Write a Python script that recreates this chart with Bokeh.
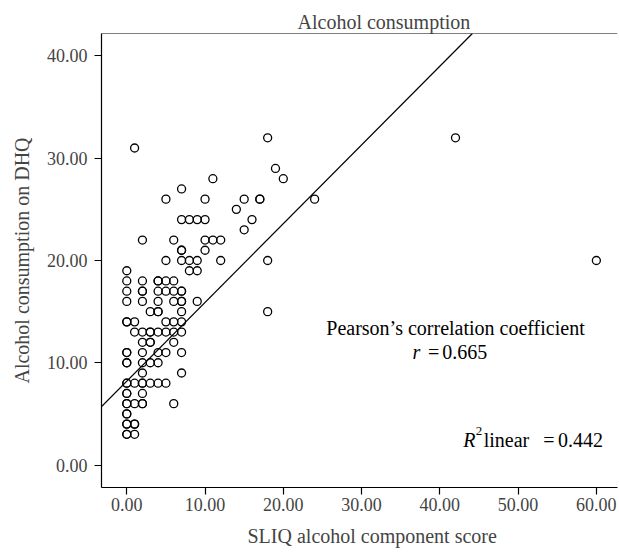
from bokeh.plotting import figure
from bokeh.models import Range1d, NumeralTickFormatter, FixedTicker, Label, Slope, Span, Title
from bokeh.embed import file_html
from bokeh.resources import INLINE

# ---- data ----
sliq_score = (
    [0] * 22 + [1] * 8 + [2] * 15 + [3] * 7 + [4] * 10 + [5] * 8 + [6] * 8 + [7] * 14
    + [8] * 3 + [9] * 4 + [10] * 4 + [11] * 2 + [12] * 2 + [14] + [15] * 2 + [16]
    + [17] * 2 + [18] * 3 + [19] + [20] + [24] + [42] + [60]
)
dhq_score = (
    [19, 18, 17, 16, 14, 14, 11, 11, 10, 10, 8, 8, 7, 7, 6, 6, 5, 5, 4, 4, 3, 3]
    + [31, 14, 13, 8, 6, 4, 4, 3]
    + [22, 18, 17, 17, 16, 13, 12, 11, 10, 9, 8, 8, 7, 6, 6]
    + [15, 13, 13, 12, 12, 10, 8]
    + [18, 18, 17, 16, 15, 15, 13, 11, 10, 8]
    + [26, 20, 18, 17, 14, 13, 11, 8]
    + [22, 18, 17, 16, 14, 13, 12, 6]
    + [27, 24, 21, 21, 20, 17, 17, 16, 16, 15, 14, 13, 11, 9]
    + [24, 20, 19]
    + [24, 20, 19, 16]
    + [26, 24, 22, 21]
    + [28, 22]
    + [22, 20]
    + [25]
    + [26, 23]
    + [24]
    + [26, 26]
    + [32, 20, 15]
    + [29]
    + [28]
    + [26]
    + [32]
    + [20]
)
fit_intercept = 8.2
fit_slope = 0.77
x_ticks = [0, 10, 20, 30, 40, 50, 60]
y_ticks = [0, 10, 20, 30, 40]
pearson_r = "0.665"
r_squared = "0.442"

FONT = "Liberation Serif"
FS_TICK = "18px"
FS = "20px"

p = figure(width=619, height=556, output_backend="svg", toolbar_location=None,
           x_range=Range1d(-3.23, 62.7), y_range=Range1d(-2.2, 42.2),
           min_border_left=101, min_border_right=2, min_border_top=33, min_border_bottom=69)

p.title.text = "Alcohol consumption"
p.title.text_font = FONT
p.title.text_font_size = FS
p.title.text_font_style = "normal"
p.title.align = "left"
p.title.offset = 196
p.title.standoff = 2

p.xgrid.visible = False
p.ygrid.visible = False
p.outline_line_color = None
p.background_fill_color = "white"
p.border_fill_color = "white"

for ax in (p.xaxis[0], p.yaxis[0]):
    ax.formatter = NumeralTickFormatter(format="0.00")
    ax.major_label_text_font = FONT
    ax.major_label_text_font_size = FS_TICK
    ax.axis_label_text_font = FONT
    ax.axis_label_text_font_size = FS
    ax.axis_label_text_font_style = "normal"
    ax.major_tick_in = 0
    ax.major_tick_out = 7
    ax.minor_tick_out = 0
    ax.minor_tick_in = 0
    ax.axis_line_color = "black"
    ax.axis_line_width = 1.2
    ax.major_tick_line_color = "black"
    ax.major_tick_line_width = 1.2

p.xaxis.ticker = FixedTicker(ticks=x_ticks)
p.yaxis.ticker = FixedTicker(ticks=y_ticks)
p.yaxis.axis_label = "Alcohol consumption on DHQ"
p.xaxis.major_label_standoff = 3
p.yaxis.major_label_standoff = 7
p.yaxis.axis_label_standoff = 11

# top border of the (right-cropped) frame
p.add_layout(Span(location=p.y_range.end, dimension="width",
                  line_color="black", line_width=1.2))

# x-axis title (off-centre, as in the cropped original)
p.add_layout(Title(text="SLIQ alcohol component score", text_font=FONT,
                   text_font_size=FS, text_font_style="normal",
                   align="left", offset=146, standoff=19), "below")

p.scatter(sliq_score, dhq_score, marker="circle", size=8, fill_alpha=0,
          line_color="black", line_width=1.3)

p.add_layout(Slope(gradient=fit_slope, y_intercept=fit_intercept,
                   line_color="black", line_width=1.2))

def lab(x, y, text, style="normal", size=FS, align="left", baseline="middle"):
    p.add_layout(Label(x=x, y=y, text=text, text_font=FONT, text_font_size=size,
                       text_font_style=style, text_align=align,
                       text_baseline=baseline, text_color="black"))

lab(42.0, 13.4, "Pearson\u2019s correlation coefficient", align="center")
lab(36.5, 11.05, "r", style="italic")
lab(38.5, 11.05, "=")
lab(40.3, 11.05, pearson_r)
lab(43.0, 2.45, "R", style="italic")
lab(44.6, 3.3, "2", size="13px")
lab(45.6, 2.45, "linear")
lab(53.2, 2.45, "=")
lab(55.1, 2.45, r_squared)

open("out.html", "w").write(file_html(p, INLINE))
